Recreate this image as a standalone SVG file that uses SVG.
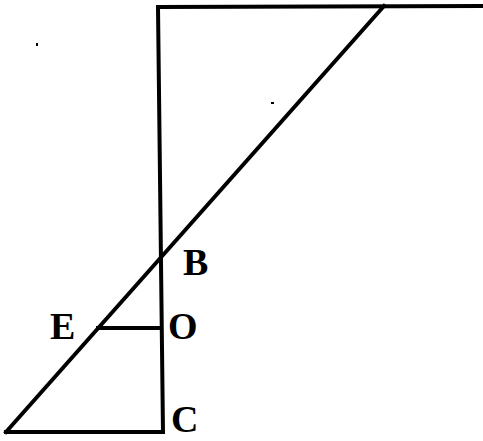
<svg xmlns="http://www.w3.org/2000/svg" width="483" height="441" viewBox="0 0 483 441">
<style>
.ln{stroke:#000;stroke-width:4;fill:none;stroke-linecap:square}
.lb{font-family:"Liberation Serif",serif;font-weight:bold;font-size:38px;fill:#000}
</style>
<rect width="483" height="441" fill="#fff"/>
<g id="connectors">
<polyline class="ln" points="483,6 158,7 163,432 6,432"/>
<line class="ln" x1="384" y1="6" x2="6" y2="432"/>
<line class="ln" x1="98" y1="328" x2="161" y2="328"/>
</g>
<g id="B"><text class="lb" x="183" y="275">B</text></g>
<g id="O"><text class="lb" x="168" y="339">O</text></g>
<g id="E"><text class="lb" x="50" y="339">E</text></g>
<g id="C"><text class="lb" x="171" y="432">C</text></g>
<rect x="36" y="43" width="2" height="3" fill="#000"/>
<rect x="271" y="102" width="3" height="2" fill="#000"/>
</svg>
